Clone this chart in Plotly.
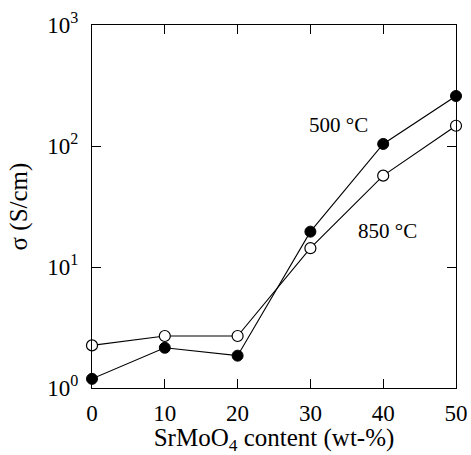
import plotly.graph_objects as go

# SrMoO4 content (wt-%)
content = [0, 10, 20, 30, 40, 50]
# Conductivity (S/cm) measured at two temperatures
sigma_500 = [1.19, 2.15, 1.85, 19.6, 104, 259]
sigma_850 = [2.25, 2.69, 2.69, 14.3, 56.9, 147]

x_ticks = [0, 10, 20, 30, 40, 50]
y_ticks = [1, 10, 100, 1000]
y_tick_text = ["10<sup>0</sup>", "10<sup>1</sup>", "10<sup>2</sup>", "10<sup>3</sup>"]

FONT = "Liberation Serif, Times New Roman, serif"

fig = go.Figure()

fig.add_trace(go.Scatter(
    x=content, y=sigma_500, mode="lines+markers", name="500 °C",
    line=dict(color="black", width=1.1),
    marker=dict(symbol="circle", size=11, color="black",
                line=dict(color="black", width=1)),
    cliponaxis=False,
))
fig.add_trace(go.Scatter(
    x=content, y=sigma_850, mode="lines+markers", name="850 °C",
    line=dict(color="black", width=1.1),
    marker=dict(symbol="circle", size=11, color="white",
                line=dict(color="black", width=1.2)),
    cliponaxis=False,
))

fig.add_annotation(x=33.8, y=2.17, xref="x", yref="y", text="500 °C",
                   showarrow=False, font=dict(family=FONT, size=21, color="black"))
fig.add_annotation(x=40.6, y=1.30, xref="x", yref="y", text="850 °C",
                   showarrow=False, font=dict(family=FONT, size=21, color="black"))

axis_common = dict(
    showline=True, linecolor="black", linewidth=1.3, mirror="ticks",
    ticks="inside", ticklen=9, tickwidth=1.2, tickcolor="black",
    showgrid=False, zeroline=False, automargin=False,
    tickfont=dict(family=FONT, size=23, color="black"),
)

fig.update_xaxes(
    range=[0, 50], tickvals=x_ticks, ticktext=[str(v) for v in x_ticks],
    ticklabelstandoff=4,
    title=dict(text="SrMoO<sub>4</sub> content (wt-%)",
               font=dict(family=FONT, size=25, color="black"), standoff=8),
    **axis_common,
)
fig.update_yaxes(
    type="log", range=[0, 3], tickvals=y_ticks, ticktext=y_tick_text,
    ticklabelstandoff=8,
    title=dict(text="σ (S/cm)", font=dict(family=FONT, size=25, color="black"),
               standoff=12),
    **axis_common,
)

fig.update_layout(
    width=471, height=455,
    margin=dict(l=92, r=15, t=25, b=67),
    paper_bgcolor="white", plot_bgcolor="white",
    showlegend=False,
    font=dict(family=FONT, color="black"),
)

fig.write_html("out.html")
